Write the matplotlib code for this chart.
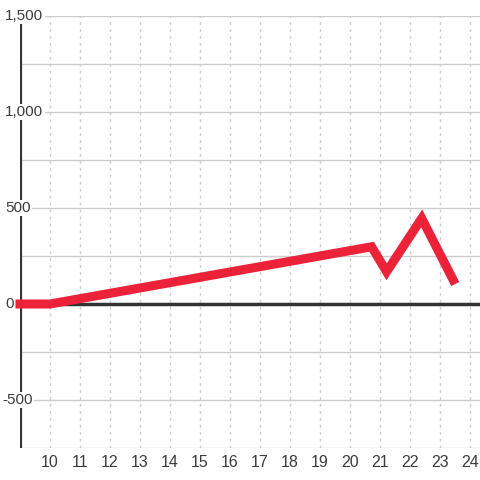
import matplotlib
matplotlib.use("Agg")
import matplotlib.pyplot as plt
import matplotlib.transforms as mtransforms

# series
x_vals = [9.0, 10.0, 20.72, 21.22, 22.39, 23.44]
y_vals = [0, 0, 298, 168, 446, 125]

x_ticks = list(range(10, 25))
y_ticks = [-500, 0, 500, 1000, 1500]
y_tick_labels = ["-500", "0", "500", "1,000", "1,500"]
y_grid = [-750, -500, -250, 0, 250, 500, 750, 1000, 1250, 1500]

RED = "#ec2238"
DARK = "#333333"
GRID = "#cccccc"
TEXT = "#3c3c3c"

plt.rcParams['font.family'] = ['Liberation Sans', 'DejaVu Sans']

fig = plt.figure(figsize=(4.8, 4.8), dpi=100)
ax = fig.add_axes([20 / 480, 32 / 480, 460 / 480, 432 / 480])
ax.set_xlim(9, 24 + 1 / 3)
ax.set_ylim(-750, 1500)

# grid
for g in y_grid:
  ax.axhline(g, color=GRID, linewidth=1, zorder=0)
for t in x_ticks:
  ax.axvline(t, color=GRID, linewidth=1, linestyle=(0, (2, 3)), zorder=0)

# zero line and left axis
ax.axhline(0, color=DARK, linewidth=2.5, zorder=2)
ax.axvline(9, color=DARK, linewidth=3, zorder=2)

ax.plot(x_vals, y_vals, color=RED, linewidth=6.5, solid_joinstyle='miter',
        solid_capstyle='projecting', zorder=6, clip_on=False)

for s in ax.spines.values():
  s.set_visible(False)
ax.set_xticks(x_ticks)
ax.set_xticklabels([str(t) for t in x_ticks], fontsize=11.5, color=TEXT)
ax.tick_params(axis='x', length=0, pad=5)
ax.set_yticks([])

# y labels sit over the axis with a white backing
trans = mtransforms.blended_transform_factory(fig.transFigure, ax.transData)
for v, lab in zip(y_ticks, y_tick_labels):
  x0 = 2 if lab.startswith("-") else 5
  ax.text(x0 / 480, v, lab, transform=trans, ha='left', va='center', fontsize=11,
          color=TEXT, zorder=4, clip_on=False,
          bbox=dict(facecolor='white', edgecolor='none', pad=1.0))

fig.savefig("out.png", dpi=100)
